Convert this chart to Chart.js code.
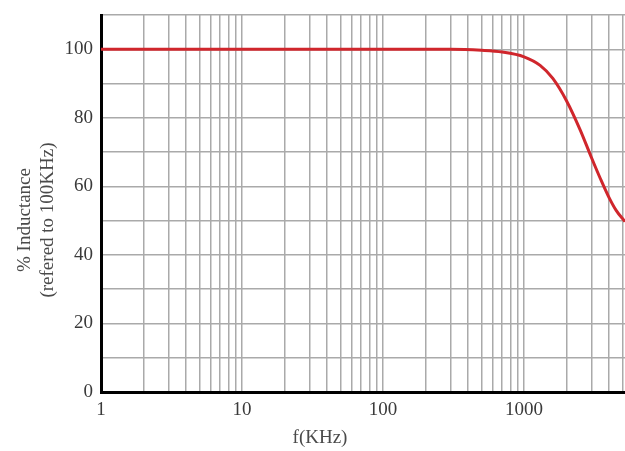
<!DOCTYPE html>
<html>
<head>
<meta charset="utf-8">
<script src="https://cdn.jsdelivr.net/npm/chart.js@4"></script>
<style>
  body { margin: 0; background: #fff; }
  #wrap { width: 625px; height: 451px; }
</style>
</head>
<body>
<div id="wrap"><canvas id="chart--ind" width="625" height="451"></canvas></div>
<script>
// frequency (KHz) and % inductance
const freq = [1, 10, 100, 300, 500, 700, 1000, 1300, 1600, 2000, 2500, 3000, 3500, 4000, 4500, 5200];
const induct = [100, 100, 100, 100, 99.7, 99.2, 97.8, 95.3, 91.5, 85, 76.5, 68.5, 62, 56.8, 53, 49.7];

// vertical grid lines: 1..9 per decade
const gridFreq = [1, 2, 3, 4, 5, 6, 7, 8, 9,
    10, 20, 30, 40, 50, 60, 70, 80, 90,
    100, 200, 300, 400, 500, 600, 700, 800, 900,
    1000, 2000, 3000, 4000, 5000];
const xLabels = [1, 10, 100, 1000];
const yLabels = [0, 20, 40, 60, 80, 100];

const serif = "'Liberation Serif', 'DejaVu Serif', serif";

const axisTitles = {
    id: 'axisTitles',
    afterDraw(chart) {
        const ctx = chart.ctx;
        ctx.save();
        ctx.fillStyle = '#4a4a4a';
        ctx.font = '19px ' + serif;
        ctx.textAlign = 'center';
        ctx.textBaseline = 'middle';
        ctx.fillText('f(KHz)', 320, 438);
        ctx.translate(0, 220);
        ctx.rotate(-Math.PI / 2);
        ctx.fillText('% Inductance', 0, 25);
        ctx.fillText('(refered to 100KHz)', 0, 48);
        ctx.restore();
    }
};

const data_ind = {
    datasets: [{
        data: freq.map((f, i) => ({x: f, y: induct[i]})),
        borderColor: '#d0262c',
        borderWidth: 3,
        pointRadius: 0,
        fill: false,
        cubicInterpolationMode: 'monotone'
    }]
};

const config_ind = {
    type: 'line',
    data: data_ind,
    options: {
        responsive: false,
        animation: false,
        layout: {padding: {top: 15, right: 0, left: 0, bottom: 0}},
        plugins: {legend: {display: false}, tooltip: {enabled: false}},
        scales: {
            x: {
                type: 'logarithmic',
                min: 1,
                max: 5200,
                afterBuildTicks: (scale) => { scale.ticks = gridFreq.map(v => ({value: v})); },
                afterFit: (scale) => {
                    scale.height = 59;
                    scale.paddingLeft = 0;
                    scale.paddingRight = 0;
                },
                grid: {color: '#aaaaaa', lineWidth: 1.5, drawTicks: false},
                border: {color: '#000', width: 3},
                ticks: {
                    autoSkip: false,
                    maxRotation: 0,
                    padding: 7,
                    color: '#3a3a3a',
                    font: {family: serif, size: 19},
                    callback: (v) => xLabels.includes(v) ? String(v) : ''
                }
            },
            y: {
                min: 0,
                max: 110,
                afterFit: (scale) => {
                    scale.width = 101;
                    scale.paddingTop = 0;
                    scale.paddingBottom = 0;
                },
                grid: {color: '#aaaaaa', lineWidth: 1.5, drawTicks: false},
                border: {color: '#000', width: 3},
                ticks: {
                    stepSize: 10,
                    padding: 8,
                    color: '#3a3a3a',
                    font: {family: serif, size: 19},
                    callback: (v) => yLabels.includes(v) ? String(v) : ''
                }
            }
        }
    },
    plugins: [axisTitles]
};

var chartInd = new Chart(document.getElementById('chart--ind'), config_ind);
</script>
</body>
</html>
